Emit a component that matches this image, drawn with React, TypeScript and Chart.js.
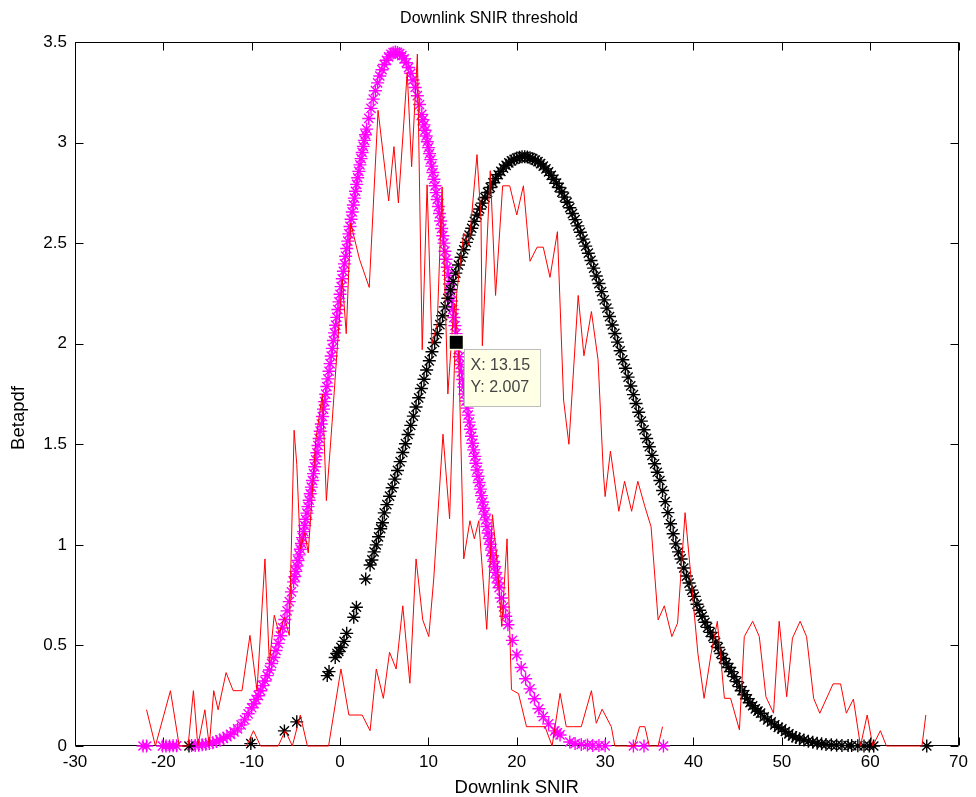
import React, { useEffect, useRef } from 'react';
import { Chart, registerables } from 'chart.js';

Chart.register(...registerables);

// ---------- data ----------
const chartTitle = 'Downlink SNIR threshold';
const xAxisTitle = 'Downlink SNIR';
const yAxisTitle = 'Betapdf';
const xMin = -30;
const xMax = 70;
const xStep = 10;
const yMin = 0;
const yMax = 3.5;
const yStep = 0.5;

const datatipX = 13.15;
const datatipY = 2.007;

// magenta '*' markers (betapdf fit of first sample)
const magentaPoints: [number, number][] = [
  [-22.3, 0], [-21.9, 0], [-20.1, 0], [-19.7, 0], [-19.3, 0], [-18.9, 0.001], [-18.5, 0.001],
  [-16.8, 0.002], [-16.4, 0.003], [-16.0, 0.004], [-15.6, 0.006], [-15.2, 0.009], [-14.8, 0.012],
  [-14.4, 0.016], [-14.0, 0.022], [-13.6, 0.03], [-13.2, 0.038], [-12.8, 0.047], [-12.4, 0.058],
  [-12.0, 0.07], [-11.6, 0.085], [-11.2, 0.105], [-10.8, 0.13], [-10.4, 0.16], [-10.0, 0.19],
  [-9.75, 0.21], [-9.5, 0.232], [-9.25, 0.25], [-9.0, 0.275], [-8.75, 0.3], [-8.5, 0.323],
  [-8.25, 0.35], [-8.0, 0.378], [-7.75, 0.41], [-7.5, 0.44], [-7.25, 0.475], [-7.0, 0.51],
  [-6.75, 0.548], [-6.5, 0.587], [-6.25, 0.629], [-6.0, 0.672], [-5.75, 0.718], [-5.5, 0.766],
  [-5.25, 0.816], [-5.125, 0.842], [-5.0, 0.868], [-4.875, 0.895], [-4.75, 0.922], [-4.625, 0.95],
  [-4.5, 0.978], [-4.375, 1.007], [-4.25, 1.036], [-4.125, 1.066], [-4.0, 1.096], [-3.875, 1.127],
  [-3.75, 1.158], [-3.625, 1.19], [-3.5, 1.222], [-3.375, 1.254], [-3.25, 1.287], [-3.125, 1.32],
  [-3.0, 1.354], [-2.875, 1.388], [-2.75, 1.423], [-2.625, 1.458], [-2.5, 1.494], [-2.375, 1.529],
  [-2.25, 1.565], [-2.125, 1.601], [-2.0, 1.638], [-1.875, 1.675], [-1.75, 1.712], [-1.625, 1.749],
  [-1.5, 1.787], [-1.375, 1.825], [-1.25, 1.863], [-1.125, 1.901], [-1.0, 1.939], [-0.875, 1.977],
  [-0.75, 2.016], [-0.625, 2.054], [-0.5, 2.092], [-0.375, 2.131], [-0.25, 2.17], [-0.125, 2.208],
  [0, 2.246], [0.125, 2.284], [0.25, 2.323], [0.375, 2.36], [0.5, 2.397], [0.625, 2.435],
  [0.75, 2.473], [0.875, 2.51], [1.0, 2.546], [1.125, 2.583], [1.25, 2.619], [1.375, 2.655],
  [1.5, 2.69], [1.625, 2.724], [1.75, 2.758], [1.875, 2.792], [2.0, 2.825], [2.125, 2.857],
  [2.25, 2.889], [2.375, 2.92], [2.5, 2.951], [2.625, 2.981], [2.75, 3.011], [2.875, 3.039],
  [3.0, 3.067], [3.25, 3.12], [3.5, 3.17], [3.75, 3.216], [4.0, 3.258], [4.25, 3.297], [4.5, 3.331],
  [4.75, 3.362], [5.0, 3.388], [5.25, 3.409], [5.5, 3.426], [5.75, 3.439], [6.0, 3.447], [6.25, 3.45],
  [6.5, 3.448], [6.75, 3.442], [7.0, 3.432], [7.25, 3.416], [7.5, 3.397], [7.75, 3.373], [8.0, 3.344],
  [8.25, 3.311], [8.5, 3.274], [8.75, 3.233], [9.0, 3.189], [9.25, 3.14], [9.375, 3.114], [9.5, 3.088],
  [9.625, 3.061], [9.75, 3.033], [9.875, 3.004], [10.0, 2.975], [10.125, 2.945], [10.25, 2.915],
  [10.375, 2.883], [10.5, 2.851], [10.625, 2.818], [10.75, 2.785], [10.875, 2.751], [11.0, 2.717],
  [11.125, 2.682], [11.25, 2.647], [11.375, 2.61], [11.5, 2.573], [11.625, 2.537], [11.75, 2.5],
  [11.875, 2.46], [12.0, 2.42], [12.125, 2.38], [12.25, 2.34], [12.375, 2.297], [12.5, 2.255],
  [12.625, 2.212], [12.75, 2.17], [12.875, 2.13], [13.0, 2.09], [13.125, 2.05], [13.25, 2.01],
  [13.375, 1.972], [13.5, 1.935], [13.625, 1.897], [13.75, 1.86], [13.875, 1.822], [14.0, 1.785],
  [14.125, 1.75], [14.25, 1.715], [14.375, 1.68], [14.5, 1.645], [14.625, 1.61], [14.75, 1.575],
  [14.875, 1.54], [15.0, 1.505], [15.125, 1.472], [15.25, 1.44], [15.375, 1.406], [15.5, 1.372],
  [15.625, 1.341], [15.75, 1.31], [15.875, 1.277], [16.0, 1.245], [16.125, 1.213], [16.25, 1.182],
  [16.375, 1.153], [16.5, 1.124], [16.625, 1.091], [16.75, 1.059], [16.875, 1.031], [17.0, 1.003],
  [17.125, 0.974], [17.25, 0.946], [17.375, 0.918], [17.5, 0.891], [17.625, 0.863], [17.75, 0.836],
  [17.875, 0.811], [18.0, 0.787], [18.25, 0.736], [18.5, 0.691], [18.75, 0.645], [19.0, 0.603],
  [19.5, 0.525], [20.0, 0.453], [20.5, 0.39], [21.0, 0.334], [21.5, 0.284], [22.0, 0.235],
  [22.5, 0.185], [23.0, 0.146], [23.6, 0.11], [24.3, 0.075], [24.6, 0.065], [24.9, 0.055],
  [26.0, 0.02], [26.6, 0.012], [27.3, 0.008], [28.0, 0.005], [28.6, 0.003], [29.3, 0.002],
  [30.0, 0.001], [33.2, 0], [34.4, 0], [36.6, 0],
];

// black '*' markers (betapdf fit of second sample)
const blackPoints: [number, number][] = [
  [-17.1, 0], [-10.1, 0.012], [-6.3, 0.075], [-4.9, 0.12], [-1.45, 0.35], [-1.25, 0.37],
  [-0.55, 0.44], [-0.35, 0.46], [-0.15, 0.47], [0.1, 0.49], [0.45, 0.52], [0.75, 0.56],
  [1.55, 0.64], [1.85, 0.69], [2.9, 0.83], [3.4, 0.9], [3.6, 0.925], [3.85, 0.965], [4.1, 1.0],
  [4.35, 1.04], [4.6, 1.08], [4.8, 1.11], [5.0, 1.159], [5.3, 1.2], [5.6, 1.242], [5.9, 1.284],
  [6.2, 1.327], [6.5, 1.37], [6.8, 1.414], [7.1, 1.459], [7.4, 1.503], [7.7, 1.549], [8.0, 1.594],
  [8.3, 1.64], [8.6, 1.685], [8.9, 1.731], [9.2, 1.777], [9.5, 1.823], [9.8, 1.869], [10.1, 1.915],
  [10.4, 1.96], [10.7, 2.006], [11.0, 2.05], [11.3, 2.095], [11.6, 2.139], [11.9, 2.183],
  [12.2, 2.226], [12.5, 2.268], [12.8, 2.31], [13.1, 2.351], [13.4, 2.391], [13.7, 2.43],
  [14.0, 2.467], [14.3, 2.504], [14.6, 2.54], [14.9, 2.574], [15.2, 2.608], [15.5, 2.64],
  [15.8, 2.67], [16.1, 2.699], [16.4, 2.727], [16.7, 2.752], [17.0, 2.777], [17.3, 2.8],
  [17.6, 2.821], [17.9, 2.84], [18.2, 2.857], [18.5, 2.873], [18.8, 2.887], [19.1, 2.899],
  [19.4, 2.909], [19.7, 2.917], [20.0, 2.923], [20.3, 2.927], [20.6, 2.93], [20.9, 2.93],
  [21.2, 2.928], [21.5, 2.925], [21.8, 2.92], [22.1, 2.913], [22.4, 2.905], [22.7, 2.895],
  [23.0, 2.883], [23.3, 2.869], [23.6, 2.854], [23.9, 2.837], [24.2, 2.818], [24.5, 2.798],
  [24.8, 2.777], [25.1, 2.754], [25.4, 2.729], [25.7, 2.703], [26.0, 2.676], [26.3, 2.647],
  [26.6, 2.617], [26.9, 2.586], [27.2, 2.554], [27.5, 2.52], [27.8, 2.485], [28.1, 2.45],
  [28.4, 2.414], [28.7, 2.376], [29.0, 2.337], [29.3, 2.299], [29.6, 2.259], [29.9, 2.218],
  [30.2, 2.177], [30.5, 2.135], [30.8, 2.093], [31.1, 2.051], [31.4, 2.008], [31.7, 1.965],
  [32.0, 1.92], [32.3, 1.878], [32.6, 1.834], [32.9, 1.79], [33.2, 1.747], [33.5, 1.703],
  [33.8, 1.659], [34.1, 1.615], [34.4, 1.572], [34.7, 1.529], [35.0, 1.488], [35.3, 1.445],
  [35.6, 1.403], [35.9, 1.361], [36.2, 1.32], [36.5, 1.27], [36.8, 1.215], [37.1, 1.16],
  [37.4, 1.105], [37.7, 1.055], [38.0, 1.005], [38.3, 0.965], [38.6, 0.93], [38.9, 0.885],
  [39.2, 0.845], [39.5, 0.81], [39.8, 0.775], [40.1, 0.744], [40.4, 0.705], [40.7, 0.675],
  [41.0, 0.645], [41.3, 0.615], [41.6, 0.59], [41.9, 0.565], [42.2, 0.544], [42.5, 0.515],
  [42.8, 0.49], [43.1, 0.46], [43.4, 0.435], [43.7, 0.41], [44.0, 0.39], [44.3, 0.37],
  [44.6, 0.345], [44.9, 0.32], [45.2, 0.295], [45.5, 0.275], [45.8, 0.255], [46.1, 0.235],
  [46.4, 0.215], [46.7, 0.2], [47.0, 0.185], [47.3, 0.173], [47.6, 0.163], [48.0, 0.145],
  [48.4, 0.13], [48.8, 0.12], [49.2, 0.105], [49.6, 0.093], [50.0, 0.085], [50.4, 0.072],
  [50.8, 0.06], [51.2, 0.05], [51.6, 0.042], [52.0, 0.036], [52.5, 0.03], [53.0, 0.024],
  [53.5, 0.019], [54.0, 0.014], [54.5, 0.011], [55.0, 0.008], [55.6, 0.006], [56.2, 0.004],
  [56.8, 0.003], [57.5, 0.002], [57.9, 0.002], [58.6, 0.001], [59.3, 0], [59.9, 0], [60.4, 0],
  [66.4, 0],
];

// red line: empirical density of first sample
const redFirst: [number, number][] = [
  [-21.9, 0.18], [-20.9, 0], [-19.2, 0.275], [-18.2, 0], [-17.2, 0], [-16.6, 0.275], [-16.1, 0],
  [-15.3, 0.18], [-14.8, 0], [-14.3, 0.275], [-13.8, 0.18], [-12.9, 0.365], [-12.1, 0.275],
  [-11.1, 0.275], [-10.2, 0.55], [-9.4, 0.275], [-8.5, 0.93], [-8.0, 0.41], [-7.45, 0.65],
  [-6.9, 0.56], [-6.3, 0.64], [-5.75, 0.55], [-5.2, 1.57], [-4.9, 1.4], [-4.5, 0.98], [-4.0, 1.06],
  [-3.6, 0.96], [-3.1, 1.29], [-2.75, 1.52], [-2.0, 1.75], [-1.8, 1.52], [-1.55, 1.22],
  [-0.9, 1.61], [-0.3, 1.99], [0.25, 2.32], [0.7, 2.05], [1.2, 2.6], [2.2, 2.42], [3.3, 2.28],
  [4.3, 3.16], [5.5, 2.71], [6.1, 2.98], [6.6, 2.7], [7.6, 3.35], [8.1, 2.88], [8.75, 3.44],
  [9.3, 1.97], [9.85, 2.79], [10.4, 2.0], [11.0, 2.1], [11.55, 2.78], [12.2, 1.75], [12.9, 2.2],
  [13.4, 2.0], [14.0, 0.93], [14.7, 1.12], [15.2, 1.03], [15.7, 1.12], [16.6, 0.58], [17.25, 1.15],
  [17.75, 0.93], [18.3, 0.594], [18.9, 1.03], [19.4, 0.28], [20.2, 0.26], [21.1, 0.096],
  [22.1, 0.096], [23.2, 0.096], [24.0, 0], [24.9, 0.262], [25.6, 0.096], [26.4, 0.096],
  [27.3, 0.096], [28.45, 0.275], [29.0, 0.113], [29.66, 0.183], [30.7, 0.096], [31.1, 0],
  [33.3, 0], [33.9, 0.096], [34.5, 0.096], [35.0, 0], [36.0, 0], [36.5, 0.096],
];

// red line: empirical density of second sample
const redSecond: [number, number][] = [
  [-10.6, 0], [-9.8, 0.076], [-9.0, 0], [-7.0, 0], [-6.2, 0.076], [-5.4, 0], [-4.5, 0.154],
  [-3.7, 0], [-1.3, 0], [0.1, 0.383], [1.0, 0.154], [2.5, 0.154], [3.4, 0.076], [4.1, 0.383],
  [4.9, 0.237], [5.6, 0.466], [6.35, 0.383], [7.1, 0.697], [7.9, 0.312], [8.6, 0.93],
  [9.36, 0.627], [10.04, 0.544], [10.6, 0.83], [11.65, 1.55], [12.4, 1.13], [13.2, 2.25],
  [14.0, 2.55], [14.6, 2.49], [15.5, 2.94], [15.95, 2.62], [16.1, 1.99], [17.0, 2.86],
  [17.6, 2.24], [18.4, 2.785], [19.2, 2.785], [20.0, 2.64], [20.75, 2.785], [21.5, 2.41],
  [22.3, 2.48], [23.0, 2.48], [23.76, 2.33], [24.6, 2.557], [25.3, 1.72], [25.9, 1.5],
  [26.95, 2.24], [27.6, 1.94], [28.45, 2.16], [29.2, 1.92], [29.8, 1.358], [30.0, 1.24],
  [30.6, 1.466], [31.55, 1.167], [32.2, 1.316], [33.0, 1.167], [33.7, 1.316], [34.5, 1.19],
  [35.2, 1.09], [36.0, 0.627], [36.7, 0.697], [37.55, 0.544], [38.2, 0.611], [39.05, 1.16],
  [40.5, 0.46], [41.2, 0.237], [42.0, 0.46], [42.7, 0.62], [43.5, 0.237], [44.2, 0.237],
  [45.2, 0.08], [45.75, 0.544], [46.7, 0.62], [47.45, 0.544], [48.2, 0.245], [49.06, 0.163],
  [49.7, 0.62], [50.55, 0.245], [51.2, 0.536], [52.07, 0.62], [52.8, 0.544], [53.6, 0.237],
  [54.3, 0.163], [55.8, 0.309], [56.65, 0.309], [57.3, 0.163], [58.1, 0.233], [58.9, 0],
  [59.66, 0.154], [60.3, 0], [61.15, 0.076], [61.84, 0], [65.86, 0], [66.3, 0.154],
];

const FONT = "'Liberation Sans', Arial, Helvetica, sans-serif";

const toXY = (pts: [number, number][]) => pts.map(([x, y]) => ({ x, y }));

// axes box with inward ticks (MATLAB style), titles and data tip
const matlabAxes = {
  id: 'matlabAxes',
  beforeDatasetsDraw(chart: any) {
    const { ctx, chartArea } = chart;
    const { left, right, top, bottom } = chartArea;
    const xs = chart.scales.x;
    const ys = chart.scales.y;
    const L = Math.round(left) + 0.5;
    const R = Math.round(right) - 0.5;
    const T = Math.round(top) + 0.5;
    const B = Math.round(bottom) - 0.5;
    ctx.save();
    ctx.strokeStyle = '#000';
    ctx.lineWidth = 1;
    ctx.beginPath();
    ctx.rect(L, T, R - L, B - T);
    ctx.stroke();
    const tl = 8;
    ctx.beginPath();
    xs.ticks.forEach((t: any) => {
      const px = Math.round(xs.getPixelForValue(t.value)) + 0.5;
      ctx.moveTo(px, B); ctx.lineTo(px, B - tl);
      ctx.moveTo(px, T); ctx.lineTo(px, T + tl);
    });
    ys.ticks.forEach((t: any) => {
      const py = Math.round(ys.getPixelForValue(t.value)) + 0.5;
      ctx.moveTo(L, py); ctx.lineTo(L + tl, py);
      ctx.moveTo(R, py); ctx.lineTo(R - tl, py);
    });
    ctx.stroke();
    ctx.restore();
  },
  afterDatasetsDraw(chart: any) {
    const { ctx } = chart;
    const px = chart.scales.x.getPixelForValue(datatipX);
    const py = chart.scales.y.getPixelForValue(datatipY);
    ctx.save();
    ctx.fillStyle = '#FFFFE8';
    ctx.fillRect(px - 8, py - 8, 16, 16);
    ctx.fillStyle = '#000';
    ctx.fillRect(px - 6.5, py - 6.5, 13, 13);
    const bx = Math.round(px + 8) + 0.5;
    const by = Math.round(py + 7) + 0.5;
    const bw = 76;
    const bh = 57;
    ctx.fillStyle = '#FFFFE6';
    ctx.fillRect(bx, by, bw, bh);
    ctx.strokeStyle = '#BDBDBD';
    ctx.lineWidth = 1;
    ctx.strokeRect(bx, by, bw, bh);
    ctx.fillStyle = '#444';
    ctx.font = `16px ${FONT}`;
    ctx.textBaseline = 'middle';
    ctx.textAlign = 'left';
    ctx.fillText(`X: ${datatipX}`, bx + 6, by + 16);
    ctx.fillText(`Y: ${datatipY}`, bx + 6, by + 38);
    ctx.restore();
  },
  afterDraw(chart: any) {
    const { ctx, width } = chart;
    ctx.save();
    ctx.fillStyle = '#000';
    ctx.font = `16px ${FONT}`;
    ctx.textAlign = 'center';
    ctx.textBaseline = 'middle';
    ctx.fillText(chartTitle, width / 2 + 1, 18.5);
    ctx.font = `18.5px ${FONT}`;
    ctx.translate(19, 418);
    ctx.rotate(-Math.PI / 2);
    ctx.fillText(yAxisTitle, 0, 0);
    ctx.restore();
  },
};

const tickText = (v: any) => String(Math.round(Number(v) * 1000) / 1000);

export default function App() {
  const ref = useRef<HTMLCanvasElement | null>(null);

  useEffect(() => {
    if (!ref.current) return;
    const markerCommon = {
      showLine: false,
      pointStyle: 'star',
      pointRadius: 6.5,
      pointBorderWidth: 1.4,
      pointBackgroundColor: 'rgba(0,0,0,0)',
      clip: false,
    };
    const chart = new Chart(ref.current, {
      type: 'scatter',
      data: {
        datasets: [
          {
            label: 'empirical 1',
            data: toXY(redFirst),
            showLine: true,
            borderColor: '#FF0000',
            borderWidth: 1,
            pointRadius: 0,
            tension: 0,
            order: 0,
            clip: false,
          } as any,
          {
            label: 'empirical 2',
            data: toXY(redSecond),
            showLine: true,
            borderColor: '#FF0000',
            borderWidth: 1,
            pointRadius: 0,
            tension: 0,
            order: 0,
            clip: false,
          } as any,
          {
            label: 'betapdf 2',
            data: toXY(blackPoints),
            ...markerCommon,
            borderColor: '#000000',
            pointBorderColor: '#000000',
            order: 1,
          } as any,
          {
            label: 'betapdf 1',
            data: toXY(magentaPoints),
            ...markerCommon,
            borderColor: '#FF00FF',
            pointBorderColor: '#FF00FF',
            order: 2,
          } as any,
        ],
      },
      options: {
        responsive: false,
        animation: false,
        events: [],
        layout: { padding: { left: 0, right: 13, top: 42, bottom: 0 } },
        plugins: {
          legend: { display: false },
          tooltip: { enabled: false },
          title: { display: false },
        },
        scales: {
          x: {
            type: 'linear',
            min: xMin,
            max: xMax,
            ticks: {
              stepSize: xStep,
              color: '#000',
              font: { family: FONT, size: 17, lineHeight: 1 },
              padding: 8,
              maxRotation: 0,
              autoSkip: false,
              callback: tickText,
            },
            grid: { display: false, drawTicks: false },
            border: { display: false },
            title: {
              display: true,
              text: xAxisTitle,
              color: '#000',
              font: { family: FONT, size: 18.5, lineHeight: 1 },
              padding: { top: 0, bottom: 0 },
            },
            afterFit: (s: any) => { s.height = 51; },
          },
          y: {
            type: 'linear',
            min: yMin,
            max: yMax,
            ticks: {
              stepSize: yStep,
              color: '#000',
              font: { family: FONT, size: 17, lineHeight: 1 },
              padding: 8,
              callback: tickText,
            },
            grid: { display: false, drawTicks: false },
            border: { display: false },
            title: { display: false },
            afterFit: (s: any) => { s.width = 75; },
          },
        },
      } as any,
      plugins: [matlabAxes],
    });
    return () => chart.destroy();
  }, []);

  return (
    <div style={{ position: 'fixed', left: 0, top: 0, width: 976, height: 797, background: '#fff' }}>
      <canvas ref={ref} width={976} height={797} style={{ width: 976, height: 797, display: 'block' }} />
    </div>
  );
}
